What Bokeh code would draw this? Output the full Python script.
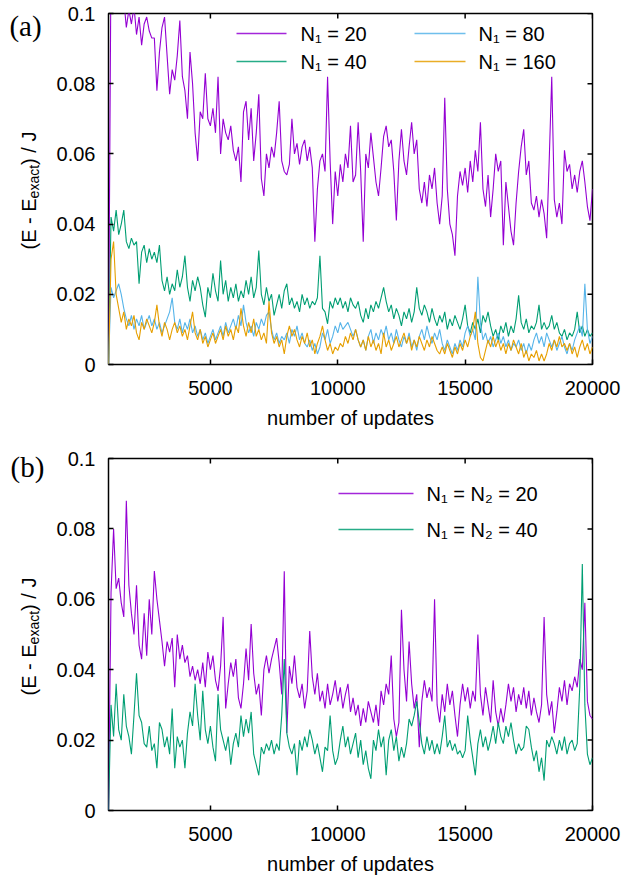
import math
from bokeh.plotting import figure
from bokeh.models import FixedTicker, Label, Range1d
from bokeh.layouts import column, row
from bokeh.embed import file_html
from bokeh.resources import INLINE

# ---------------- data ----------------
updates = list(range(1000, 20001, 100))

# panel (a)
a_n20 = [
    0.0, 0.118, 0.112, 0.106, 0.103, 0.110, 0.104, 0.096, 0.101, 0.097,
    0.102, 0.094, 0.099, 0.091, 0.097, 0.099, 0.095, 0.093, 0.093, 0.078,
    0.089, 0.096, 0.099, 0.088, 0.077, 0.084, 0.081, 0.088, 0.098, 0.082,
    0.078, 0.070, 0.089, 0.080, 0.066, 0.058, 0.072, 0.070, 0.083, 0.070,
    0.068, 0.073, 0.066, 0.082, 0.060, 0.070, 0.066, 0.064, 0.068, 0.061,
    0.058, 0.062, 0.052, 0.072, 0.075, 0.064, 0.073, 0.058, 0.066, 0.077,
    0.053, 0.048, 0.060, 0.056, 0.062, 0.059, 0.066, 0.075, 0.058, 0.055,
    0.054, 0.057, 0.070, 0.060, 0.063, 0.057, 0.062, 0.064, 0.058, 0.062,
    0.056, 0.035, 0.050, 0.058, 0.060, 0.055, 0.082, 0.058, 0.040, 0.055,
    0.048, 0.057, 0.052, 0.060, 0.056, 0.068, 0.052, 0.054, 0.069, 0.055,
    0.035, 0.060, 0.056, 0.066, 0.059, 0.052, 0.048, 0.056, 0.065, 0.068,
    0.062, 0.064, 0.055, 0.041, 0.058, 0.067, 0.058, 0.054, 0.062, 0.069,
    0.060, 0.064, 0.050, 0.046, 0.052, 0.045, 0.054, 0.050, 0.056, 0.046,
    0.040, 0.048, 0.076, 0.050, 0.040, 0.037, 0.031, 0.048, 0.055, 0.051,
    0.056, 0.049, 0.058, 0.052, 0.061, 0.055, 0.069, 0.050, 0.045, 0.054,
    0.042, 0.050, 0.060, 0.055, 0.058, 0.034, 0.052, 0.045, 0.038, 0.034,
    0.046, 0.055, 0.062, 0.067, 0.054, 0.058, 0.046, 0.044, 0.048, 0.042,
    0.047, 0.043, 0.036, 0.058, 0.082, 0.047, 0.042, 0.046, 0.040, 0.061,
    0.055, 0.057, 0.050, 0.054, 0.049, 0.055, 0.058, 0.052, 0.045, 0.041,
    0.050,
]
a_n40 = [
    0.0, 0.042, 0.038, 0.044, 0.037, 0.040, 0.044, 0.035, 0.033, 0.036,
    0.034, 0.035, 0.023, 0.032, 0.034, 0.029, 0.033, 0.030, 0.032, 0.029,
    0.034, 0.024, 0.021, 0.025, 0.020, 0.023, 0.021, 0.027, 0.022, 0.025,
    0.031, 0.022, 0.018, 0.024, 0.021, 0.025, 0.022, 0.017, 0.0135, 0.022,
    0.019, 0.026, 0.021, 0.018, 0.0296, 0.020, 0.024, 0.018, 0.022, 0.019,
    0.023, 0.018, 0.021, 0.019, 0.024, 0.020, 0.025, 0.019, 0.022, 0.0325,
    0.020, 0.017, 0.022, 0.018, 0.020, 0.014, 0.017, 0.020, 0.016, 0.021,
    0.023, 0.017, 0.019, 0.016, 0.018, 0.015, 0.020, 0.017, 0.019, 0.016,
    0.018, 0.017, 0.019, 0.031, 0.016, 0.015, 0.0116, 0.018, 0.016, 0.019,
    0.017, 0.019, 0.016, 0.018, 0.015, 0.019, 0.017, 0.016, 0.018, 0.014,
    0.012, 0.016, 0.013, 0.017, 0.015, 0.018, 0.016, 0.019, 0.022, 0.018,
    0.015, 0.017, 0.013, 0.016, 0.014, 0.011, 0.015, 0.013, 0.016, 0.012,
    0.015, 0.022, 0.016, 0.014, 0.017, 0.015, 0.012, 0.016, 0.013, 0.011,
    0.014, 0.012, 0.015, 0.010, 0.013, 0.011, 0.014, 0.012, 0.010, 0.013,
    0.017, 0.011, 0.009, 0.012, 0.010, 0.013, 0.009, 0.014, 0.012, 0.015,
    0.011, 0.008, 0.010, 0.007, 0.011, 0.009, 0.012, 0.008, 0.011, 0.009,
    0.013, 0.0197, 0.012, 0.010, 0.013, 0.009, 0.011, 0.010, 0.012, 0.017,
    0.010, 0.012, 0.010, 0.011, 0.014, 0.010, 0.012, 0.009, 0.008, 0.010,
    0.007, 0.009, 0.008, 0.010, 0.015, 0.009, 0.011, 0.008, 0.010, 0.008,
    0.009,
]
a_n80 = [
    0.0, 0.022, 0.019, 0.021, 0.023, 0.020, 0.016, 0.013, 0.011, 0.014,
    0.010, 0.013, 0.011, 0.014, 0.010, 0.012, 0.014, 0.011, 0.013, 0.010,
    0.012, 0.009, 0.011, 0.013, 0.015, 0.019, 0.012, 0.010, 0.013, 0.009,
    0.012, 0.010, 0.013, 0.009, 0.011, 0.008, 0.010, 0.007, 0.009, 0.006,
    0.008, 0.010, 0.007, 0.009, 0.011, 0.008, 0.012, 0.009, 0.011, 0.013,
    0.010, 0.014, 0.011, 0.017, 0.012, 0.009, 0.011, 0.008, 0.012, 0.010,
    0.013, 0.011, 0.014, 0.015, 0.010, 0.007, 0.009, 0.006, 0.008, 0.007,
    0.009, 0.006, 0.010, 0.008, 0.011, 0.007, 0.009, 0.006, 0.005, 0.007,
    0.004, 0.006, 0.003, 0.005, 0.009, 0.007, 0.010, 0.006, 0.008, 0.011,
    0.009, 0.012, 0.010, 0.011, 0.012, 0.010, 0.008, 0.010, 0.007, 0.005,
    0.007, 0.004, 0.008, 0.010, 0.006, 0.009, 0.007, 0.010, 0.008, 0.011,
    0.007, 0.009, 0.006, 0.010, 0.007, 0.005, 0.008, 0.006, 0.009, 0.005,
    0.007, 0.004, 0.008, 0.010, 0.007, 0.011, 0.008, 0.006, 0.009, 0.007,
    0.010, 0.006, 0.004, 0.007, 0.005, 0.003, 0.006, 0.004, 0.007, 0.005,
    0.009, 0.011, 0.008, 0.010, 0.007, 0.025, 0.012, 0.007, 0.009, 0.006,
    0.008, 0.005, 0.007, 0.009, 0.006, 0.008, 0.005, 0.007, 0.004, 0.006,
    0.005, 0.007, 0.004, 0.006, 0.003, 0.006, 0.004, 0.007, 0.009, 0.006,
    0.008, 0.005, 0.009, 0.007, 0.005, 0.007, 0.004, 0.006, 0.008, 0.005,
    0.003, 0.006, 0.004, 0.007, 0.009, 0.011, 0.008, 0.023, 0.010, 0.006,
    0.008,
]
a_n160 = [
    0.0, 0.030, 0.035, 0.020, 0.016, 0.012, 0.015, 0.010, 0.013, 0.011,
    0.014, 0.009, 0.007, 0.012, 0.010, 0.013, 0.011, 0.009, 0.012, 0.017,
    0.011, 0.008, 0.012, 0.010, 0.007, 0.010, 0.012, 0.009, 0.011, 0.008,
    0.010, 0.007, 0.011, 0.015, 0.009, 0.007, 0.010, 0.006, 0.008, 0.005,
    0.007, 0.009, 0.006, 0.008, 0.010, 0.007, 0.011, 0.008, 0.010, 0.007,
    0.011, 0.009, 0.016, 0.011, 0.008, 0.012, 0.009, 0.013, 0.008, 0.010,
    0.007, 0.009, 0.006, 0.018, 0.009, 0.006, 0.008, 0.005, 0.007, 0.003,
    0.008, 0.011, 0.008, 0.010, 0.007, 0.005, 0.008, 0.006, 0.009, 0.005,
    0.007, 0.003, 0.006, 0.008, 0.011, 0.007, 0.004, 0.006, 0.003, 0.005,
    0.004, 0.006, 0.005, 0.008, 0.006, 0.009, 0.007, 0.010, 0.007, 0.005,
    0.007, 0.004, 0.008, 0.005, 0.007, 0.004, 0.006, 0.003, 0.009, 0.005,
    0.007, 0.004, 0.006, 0.008, 0.005, 0.007, 0.009, 0.006, 0.008, 0.004,
    0.007, 0.005, 0.008, 0.006, 0.004, 0.007, 0.005, 0.008, 0.006, 0.004,
    0.003, 0.005, 0.003, 0.006, 0.004, 0.002, 0.005, 0.003, 0.006, 0.004,
    0.007, 0.005, 0.008, 0.010, 0.015, 0.006, 0.002, 0.001, 0.004, 0.007,
    0.005, 0.008, 0.005, 0.007, 0.004, 0.006, 0.003, 0.006, 0.004, 0.007,
    0.005, 0.003, 0.006, 0.002, 0.004, 0.001, 0.003, 0.002, 0.004, 0.001,
    0.003, 0.001, 0.003, 0.006, 0.004, 0.007, 0.005, 0.008, 0.005, 0.006,
    0.004, 0.006, 0.003, 0.005, 0.002, 0.005, 0.007, 0.004, 0.006, 0.003,
    0.005,
]

# panel (b)
b_n20 = [
    0.0, 0.062, 0.080, 0.063, 0.066, 0.059, 0.055, 0.088, 0.064, 0.056,
    0.050, 0.064, 0.047, 0.043, 0.056, 0.044, 0.060, 0.050, 0.068, 0.060,
    0.054, 0.048, 0.041, 0.048, 0.045, 0.049, 0.035, 0.050, 0.043, 0.047,
    0.042, 0.044, 0.038, 0.041, 0.037, 0.040, 0.036, 0.042, 0.035, 0.045,
    0.040, 0.044, 0.037, 0.034, 0.041, 0.055, 0.029, 0.036, 0.042, 0.038,
    0.043, 0.032, 0.029, 0.036, 0.046, 0.037, 0.053, 0.039, 0.033, 0.036,
    0.027, 0.040, 0.044, 0.039, 0.043, 0.046, 0.049, 0.042, 0.033, 0.068,
    0.022, 0.041, 0.036, 0.044, 0.035, 0.032, 0.036, 0.029, 0.034, 0.051,
    0.038, 0.033, 0.039, 0.031, 0.034, 0.029, 0.036, 0.030, 0.033, 0.037,
    0.031, 0.035, 0.029, 0.033, 0.036, 0.028, 0.032, 0.027, 0.030, 0.024,
    0.029, 0.025, 0.031, 0.028, 0.025, 0.030, 0.024, 0.034, 0.030, 0.036,
    0.033, 0.044, 0.026, 0.021, 0.025, 0.057, 0.040, 0.031, 0.048, 0.036,
    0.029, 0.033, 0.018, 0.031, 0.037, 0.032, 0.035, 0.031, 0.060, 0.030,
    0.025, 0.033, 0.028, 0.036, 0.030, 0.034, 0.027, 0.021, 0.030, 0.036,
    0.031, 0.035, 0.029, 0.034, 0.031, 0.050, 0.033, 0.027, 0.035, 0.030,
    0.025, 0.037, 0.028, 0.024, 0.029, 0.025, 0.030, 0.036, 0.031, 0.035,
    0.028, 0.033, 0.030, 0.035, 0.029, 0.034, 0.027, 0.032, 0.028, 0.025,
    0.030, 0.055, 0.033, 0.027, 0.031, 0.022, 0.028, 0.035, 0.031, 0.037,
    0.030, 0.036, 0.034, 0.038, 0.035, 0.043, 0.040, 0.059, 0.031, 0.027,
    0.026,
]
b_n40 = [
    0.0, 0.030, 0.021, 0.036, 0.023, 0.020, 0.033, 0.024, 0.021, 0.016,
    0.027, 0.039, 0.027, 0.025, 0.019, 0.018, 0.024, 0.017, 0.019, 0.012,
    0.025, 0.023, 0.018, 0.021, 0.016, 0.029, 0.012, 0.021, 0.018, 0.020,
    0.012, 0.022, 0.028, 0.024, 0.036, 0.027, 0.020, 0.034, 0.023, 0.019,
    0.024, 0.018, 0.014, 0.033, 0.023, 0.020, 0.017, 0.021, 0.013, 0.019,
    0.022, 0.018, 0.027, 0.021, 0.026, 0.022, 0.028, 0.016, 0.013, 0.010,
    0.018, 0.016, 0.019, 0.017, 0.020, 0.016, 0.019, 0.017, 0.027, 0.043,
    0.022, 0.018, 0.016, 0.019, 0.010, 0.020, 0.017, 0.021, 0.018, 0.023,
    0.020, 0.016, 0.019, 0.015, 0.011, 0.018, 0.017, 0.027, 0.017, 0.013,
    0.015, 0.020, 0.024, 0.018, 0.021, 0.016, 0.019, 0.022, 0.015, 0.020,
    0.013, 0.017, 0.012, 0.009, 0.020, 0.017, 0.023, 0.018, 0.021, 0.010,
    0.020, 0.023, 0.017, 0.021, 0.014, 0.018, 0.015, 0.019, 0.026, 0.024,
    0.027, 0.031, 0.025, 0.019, 0.016, 0.021, 0.017, 0.020, 0.016, 0.019,
    0.016, 0.021, 0.027, 0.018, 0.020, 0.017, 0.019, 0.016, 0.017, 0.015,
    0.017, 0.027, 0.020, 0.015, 0.010, 0.019, 0.023, 0.018, 0.021, 0.017,
    0.020, 0.024, 0.019, 0.025, 0.021, 0.019, 0.024, 0.021, 0.025, 0.020,
    0.016, 0.019, 0.017, 0.018, 0.024, 0.023, 0.018, 0.014, 0.017, 0.011,
    0.015, 0.0085, 0.020, 0.018, 0.021, 0.019, 0.016, 0.020, 0.017, 0.021,
    0.016, 0.019, 0.020, 0.017, 0.019, 0.035, 0.070, 0.030, 0.016, 0.013,
    0.015,
]

legend_a = ["N\u2081 = 20", "N\u2081 = 40", "N\u2081 = 80", "N\u2081 = 160"]
legend_b = ["N\u2081 = N\u2082 = 20", "N\u2081 = N\u2082 = 40"]
panel_tags = ["(a)", "(b)"]
y_title_parts = ["(E - E", "exact", ") / J"]

x_ticks = [5000, 10000, 15000, 20000]
y_ticks = [0, 0.02, 0.04, 0.06, 0.08, 0.1]
y_tick_text = {0: "0", 0.02: "0.02", 0.04: "0.04", 0.06: "0.06", 0.08: "0.08", 0.1: "0.1"}
X0, X1 = 1000, 20000
Y0, Y1 = 0, 0.1

for s in (a_n20, a_n40, a_n80, a_n160, b_n20, b_n40):
    if len(s) != len(updates):
        raise ValueError("length mismatch %d" % len(s))

# ---------------- style ----------------
FONT = "Liberation Sans"
SERIF = "Liberation Serif"
PURPLE = "#9400D3"
GREEN = "#009E73"
BLUE = "#56B4E9"
ORANGE = "#E69F00"
TOTAL_H = 878
SIDE_W = 50          # strip on the left that carries the rotated titles and tags
W = 625 - SIDE_W
FRAME_LEFT_PAGE = 108
LEFT = FRAME_LEFT_PAGE - SIDE_W
FRAME_W = 484
LW = 1.1


def make_panel(height, top, frame_h):
    bottom = height - top - frame_h
    p = figure(width=W, height=height, x_range=Range1d(X0, X1), y_range=Range1d(Y0, Y1),
               output_backend="svg", toolbar_location=None,
               min_border_left=LEFT, min_border_right=W - LEFT - FRAME_W,
               min_border_top=top, min_border_bottom=bottom)
    p.xgrid.visible = False
    p.ygrid.visible = False
    p.outline_line_color = "black"
    p.outline_line_width = 1.5
    p.background_fill_color = "white"
    p.border_fill_color = "white"

    xa = p.xaxis[0]
    xa.ticker = FixedTicker(ticks=x_ticks)
    ya = p.yaxis[0]
    ya.ticker = FixedTicker(ticks=y_ticks)
    ya.major_label_overrides = y_tick_text
    for ax in (xa, ya):
        ax.axis_line_color = None
        ax.major_tick_in = 5
        ax.major_tick_out = 0
        ax.major_tick_line_width = 1.5
        ax.major_tick_line_color = "black"
        ax.minor_tick_line_color = None
        ax.major_label_text_font = FONT
        ax.major_label_text_font_size = "20px"
        ax.major_label_text_color = "black"
    xa.major_label_standoff = 16
    ya.major_label_standoff = 13
    xa.axis_label = "number of updates"
    xa.axis_label_text_font = FONT
    xa.axis_label_text_font_size = "20px"
    xa.axis_label_text_font_style = "normal"
    xa.axis_label_text_color = "black"
    xa.axis_label_standoff = 9

    # mirrored inward ticks on top and right border (half of each dash is clipped)
    p.scatter(x_ticks, [Y1] * len(x_ticks), marker="dash", angle=math.pi / 2, size=10,
              line_color="black", line_width=1.5)
    p.scatter([X1] * len(y_ticks), y_ticks, marker="dash", size=10,
              line_color="black", line_width=1.5)
    return p


def add_key(p, frame_top, frame_h, entries, line_px, text_px, rows_px):
    """Key (legend) drawn inside the frame: a short sample line and its label per entry."""
    def dx(px):
        return X0 + (px - FRAME_LEFT_PAGE) * (X1 - X0) / FRAME_W

    def dy(py):
        return Y0 + (frame_top + frame_h - py) * (Y1 - Y0) / frame_h

    for (label, color), y_px in zip(entries, rows_px):
        p.line([dx(line_px[0]), dx(line_px[1])], [dy(y_px), dy(y_px)],
               line_color=color, line_width=1.4, line_alpha=0.85)
        p.add_layout(Label(x=dx(text_px), y=dy(y_px), text=label, text_font=FONT,
                           text_font_size="20px", text_color="black",
                           text_align="left", text_baseline="middle"))


# ---- panel (a)
A_H, A_TOP, A_FH = 440, 13, 351
pa = make_panel(A_H, A_TOP, A_FH)
pa.line(updates, a_n20, line_color=PURPLE, line_width=LW)
pa.line(updates, a_n40, line_color=GREEN, line_width=LW)
pa.line(updates, a_n80, line_color=BLUE, line_width=LW)
pa.line(updates, a_n160, line_color=ORANGE, line_width=LW)
add_key(pa, A_TOP, A_FH, [(legend_a[0], PURPLE), (legend_a[1], GREEN)], (236, 286), 300, (33, 61))
add_key(pa, A_TOP, A_FH, [(legend_a[2], BLUE), (legend_a[3], ORANGE)], (414, 465), 478, (33, 61))

# ---- panel (b)
B_H, B_TOP, B_FH = TOTAL_H - A_H, 18, 352
pb = make_panel(B_H, B_TOP, B_FH)
pb.line(updates, b_n20, line_color=PURPLE, line_width=LW)
pb.line(updates, b_n40, line_color=GREEN, line_width=LW)
add_key(pb, A_H + B_TOP, B_FH, [(legend_b[0], PURPLE), (legend_b[1], GREEN)], (338, 413), 426, (493, 529))

# ---- left strip with the rotated y titles and the panel tags (page-pixel coordinates)
side = figure(width=SIDE_W, height=TOTAL_H, x_range=Range1d(0, SIDE_W), y_range=Range1d(TOTAL_H, 0),
              output_backend="svg", toolbar_location=None, x_axis_type=None, y_axis_type=None,
              min_border=0)
side.outline_line_color = None
side.xgrid.visible = False
side.ygrid.visible = False
side.background_fill_color = "white"
side.border_fill_color = "white"

rot = dict(angle=math.pi / 2, text_font=FONT, text_color="black",
           text_align="left", text_baseline="alphabetic")
for frame_bottom, tag, tag_xy in ((A_TOP + A_FH, panel_tags[0], (25, 25)),
                                  (A_H + B_TOP + B_FH, panel_tags[1], (27, 466))):
    side.add_layout(Label(x=28, y=frame_bottom - 115, text=y_title_parts[0], text_font_size="20px", **rot))
    side.add_layout(Label(x=33.5, y=frame_bottom - 166.1, text=y_title_parts[1], text_font_size="14px", **rot))
    side.add_layout(Label(x=28, y=frame_bottom - 199.6, text=y_title_parts[2], text_font_size="20px", **rot))
    side.add_layout(Label(x=tag_xy[0], y=tag_xy[1], text=tag, text_font=SERIF, text_font_size="29px",
                          text_color="black", text_align="center", text_baseline="middle"))

layout = row(side, column(pa, pb, spacing=0), spacing=0)
open("out.html", "w").write(file_html(layout, INLINE))
